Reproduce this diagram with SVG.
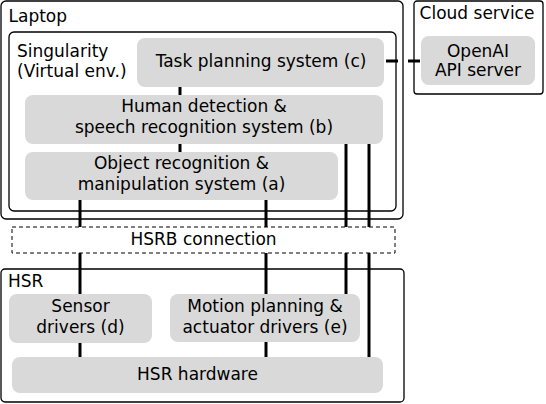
<svg xmlns="http://www.w3.org/2000/svg" width="546" height="404" viewBox="0 0 546 404">
<style>
.container{fill:#ffffff;stroke:#000000;stroke-width:1.3}
.inner{fill:none;stroke:#000000;stroke-width:1.3}
.node{fill:#d9d9d9;stroke:none}
.dashbox{fill:#ffffff;stroke:#000000;stroke-width:1;stroke-dasharray:4 3}
.conn{stroke:#000000;stroke-width:3;fill:none}
text{font-family:"DejaVu Sans","Liberation Sans",sans-serif;font-size:17px;fill:#000000}
.c{text-anchor:middle}
</style>
<rect width="546" height="404" fill="#ffffff"/>
<g id="laptop">
<rect class="container" x="1" y="1" width="402" height="218" rx="5"/>
<text x="8.5" y="22">Laptop</text>
</g>
<g id="singularity">
<rect class="inner" x="9" y="32" width="387" height="179" rx="5"/>
<text x="17" y="57">Singularity</text>
<text x="17" y="77">(Virtual env.)</text>
</g>
<g id="cloud">
<rect class="container" x="414" y="1" width="129" height="93" rx="3"/>
<text class="c" x="477" y="18.5">Cloud service</text>
</g>
<g id="hsr">
<rect class="container" x="1" y="269" width="403" height="133" rx="4"/>
<text x="8" y="287">HSR</text>
</g>
<g id="task-planning">
<rect class="node" x="137" y="38" width="247" height="49" rx="8"/>
<text class="c" x="261" y="67">Task planning system (c)</text>
</g>
<g id="openai">
<rect class="node" x="421" y="36" width="114" height="49" rx="8"/>
<text class="c" x="478" y="57">OpenAI</text>
<text class="c" x="478" y="76">API server</text>
</g>
<g id="human-detection">
<rect class="node" x="25" y="95" width="358" height="49" rx="8"/>
<text class="c" x="204" y="112">Human detection &amp;</text>
<text class="c" x="204" y="133">speech recognition system (b)</text>
</g>
<g id="object-recognition">
<rect class="node" x="25" y="152" width="313" height="48" rx="8"/>
<text class="c" x="181.5" y="169">Object recognition &amp;</text>
<text class="c" x="181.5" y="190">manipulation system (a)</text>
</g>
<g id="hsrb-connection">
<rect class="dashbox" x="12" y="227" width="383" height="26"/>
<text class="c" x="203.5" y="245">HSRB connection</text>
</g>
<g id="sensor-drivers">
<rect class="node" x="9" y="294" width="143" height="49" rx="8"/>
<text class="c" x="80.5" y="312">Sensor</text>
<text class="c" x="80.5" y="333">drivers (d)</text>
</g>
<g id="motion-planning">
<rect class="node" x="170" y="294" width="190" height="48" rx="8"/>
<text class="c" x="265" y="312">Motion planning &amp;</text>
<text class="c" x="265" y="333">actuator drivers (e)</text>
</g>
<g id="hsr-hardware">
<rect class="node" x="12" y="357" width="371" height="36" rx="8"/>
<text class="c" x="197.5" y="380">HSR hardware</text>
</g>
<g id="connectors">
<line class="conn" x1="180" y1="87" x2="180" y2="95"/>
<line class="conn" x1="180" y1="144" x2="180" y2="152"/>
<line class="conn" x1="80" y1="200" x2="80" y2="227"/>
<line class="conn" x1="80" y1="253" x2="80" y2="294"/>
<line class="conn" x1="80" y1="343" x2="80" y2="357"/>
<line class="conn" x1="266" y1="200" x2="266" y2="227"/>
<line class="conn" x1="266" y1="253" x2="266" y2="294"/>
<line class="conn" x1="266" y1="342" x2="266" y2="357"/>
<line class="conn" x1="346" y1="144" x2="346" y2="227"/>
<line class="conn" x1="346" y1="253" x2="346" y2="294"/>
<line class="conn" x1="369" y1="144" x2="369" y2="227"/>
<line class="conn" x1="369" y1="253" x2="369" y2="357"/>
<line class="conn" x1="386" y1="61" x2="420" y2="61" stroke-dasharray="12 10"/>
</g>
</svg>
